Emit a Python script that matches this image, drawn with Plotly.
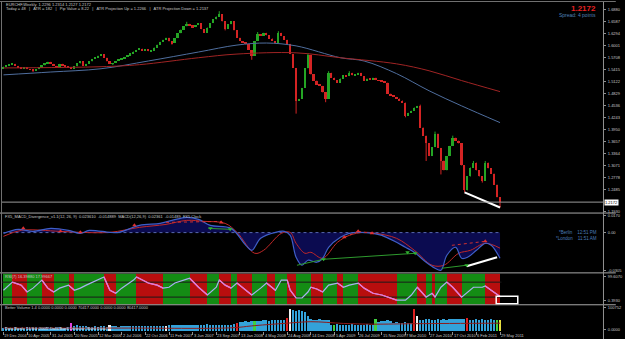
import pandas as pd
import plotly.graph_objects as go

# ---------------- data ----------------
START_DATE = "2004-12-19"   # bi-weekly bars
CLOSE = [
    1.549, 1.552, 1.555, 1.556, 1.551, 1.547, 1.544, 1.548, 1.543, 1.541,
    1.539, 1.543, 1.548, 1.552, 1.557, 1.561, 1.556, 1.551, 1.546, 1.556,
    1.553, 1.549, 1.546, 1.544, 1.550, 1.557, 1.563, 1.551, 1.556, 1.562,
    1.568, 1.572, 1.576, 1.580, 1.571, 1.562, 1.556, 1.558, 1.563, 1.567,
    1.570, 1.573, 1.576, 1.582, 1.586, 1.590, 1.593, 1.589, 1.592, 1.587,
    1.588, 1.596, 1.603, 1.610, 1.615, 1.620, 1.611, 1.607, 1.619, 1.631,
    1.640, 1.648, 1.654, 1.650, 1.646, 1.651, 1.656, 1.641, 1.632, 1.645,
    1.656, 1.665, 1.672, 1.678, 1.660, 1.642, 1.653, 1.661, 1.638, 1.620,
    1.612, 1.608, 1.605, 1.590, 1.576, 1.612, 1.629, 1.625, 1.632, 1.626,
    1.618, 1.612, 1.607, 1.632, 1.624, 1.615, 1.605, 1.580, 1.546, 1.466,
    1.470, 1.497, 1.545, 1.578, 1.530, 1.515, 1.505, 1.502, 1.486, 1.470,
    1.534, 1.522, 1.516, 1.510, 1.520, 1.528, 1.526, 1.534, 1.528, 1.531,
    1.534, 1.526, 1.515, 1.520, 1.518, 1.522, 1.516, 1.514, 1.512, 1.510,
    1.483, 1.478, 1.475, 1.471, 1.466, 1.461, 1.429, 1.436, 1.441, 1.449,
    1.453, 1.400, 1.380, 1.361, 1.330, 1.352, 1.385, 1.350, 1.319, 1.295,
    1.330, 1.355, 1.375, 1.368, 1.361, 1.307, 1.246, 1.280, 1.302, 1.314,
    1.295, 1.280, 1.270, 1.314, 1.300, 1.287, 1.260, 1.229, 1.217,
]
FIRST_OPEN = 1.545
WICK_HIGH = {73: 1.685, 103: 1.582, 62: 1.659, 86: 1.634, 93: 1.636, 110: 1.538,
             117: 1.538, 141: 1.456, 146: 1.390, 152: 1.380, 159: 1.318, 163: 1.318}
WICK_LOW = {84: 1.566, 99: 1.434, 109: 1.462, 143: 1.318, 148: 1.285, 156: 1.241,
            168: 1.204, 10: 1.536, 37: 1.553, 57: 1.603, 75: 1.638, 136: 1.425, 162: 1.265}
BID = 1.2172

PRICE_TICKS = [1.6880, 1.6587, 1.6294, 1.6001, 1.5708, 1.5415, 1.5122, 1.4829,
               1.4536, 1.4243, 1.3950, 1.3657, 1.3364, 1.3071, 1.2778, 1.2485, 1.1930]

MA_BLUE_I = [0, 16, 33, 49, 66, 79, 89, 99, 114, 122, 133, 144, 155, 168]
MA_BLUE_V = [1.529, 1.536, 1.544, 1.563, 1.585, 1.602, 1.607, 1.600, 1.571, 1.563,
             1.532, 1.490, 1.453, 1.412]
MA_RED_I = [0, 33, 46, 66, 79, 99, 114, 133, 144, 155, 168]
MA_RED_V = [1.546, 1.549, 1.554, 1.571, 1.580, 1.583, 1.571, 1.556, 1.539, 1.515, 1.488]

PRICE_DIV = [(156, 1.241), (168, 1.204)]

MACD_I = [0, 5, 10, 16, 22, 26, 29, 36, 39, 46, 53, 57, 62, 66, 70, 77, 82, 84, 87, 92,
          95, 97, 99, 101, 103, 106, 108, 110, 114, 117, 120, 125, 128, 133, 136, 139,
          143, 146, 148, 150, 153, 155, 157, 160, 163, 165, 168]
MACD_V = [-0.0006, 0.0026, 0.0010, 0.0034, 0.0018, -0.0006, 0.0018, 0.0002, 0.0002,
          0.0058, 0.0074, 0.0098, 0.0122, 0.0106, 0.0058, 0.0034, -0.0102, -0.0142,
          -0.0046, 0.0002, 0.0010, -0.0022, -0.0198, -0.0262, -0.0222, -0.0238, -0.0206,
          -0.0118, -0.0038, -0.0006, 0.0002, -0.0006, -0.0022, -0.0078, -0.0118, -0.0158,
          -0.0238, -0.0286, -0.0302, -0.0182, -0.0118, -0.0206, -0.0198, -0.0142,
          -0.0086, -0.0102, -0.0206]
SIGNAL_I = [0, 6, 19, 26, 36, 46, 55, 62, 68, 75, 79, 85, 88, 94, 97, 99, 102, 104, 108,
            113, 117, 122, 126, 133, 139, 145, 149, 154, 158, 163, 168]
SIGNAL_V = [-0.0030, 0.0018, 0.0010, 0.0002, 0.0002, 0.0042, 0.0066, 0.0098, 0.0090,
            0.0074, 0.0002, -0.0166, -0.0142, -0.0006, 0.0002, -0.0086, -0.0166, -0.0158,
            -0.0206, -0.0078, -0.0022, 0.0002, -0.0006, -0.0046, -0.0142, -0.0262,
            -0.0262, -0.0166, -0.0142, -0.0086, -0.0125]
DIV_RED = [((55, 0.0082), (73.7, 0.0090)), ((115.3, -0.0038), (120, 0.0010)),
           ((120, 0.0010), (124.7, -0.0006)), ((151.7, -0.0102), (163, -0.0070))]
DIV_GREEN = [((69.3, 0.0034), (77, 0.0026)), ((99.3, -0.0262), (108.3, -0.0214)),
             ((108.3, -0.0214), (139.3, -0.0166)), ((148.3, -0.0286), (156.7, -0.0262))]
DIV_WHITE = [((156.7, -0.0270), (167, -0.0198))]
PEAK_I = [6.7, 19.3, 26, 44.3, 73.7, 115.3, 120, 124.7, 163]
PEAK_V = [0.0034, 0.0010, 0.0002, 0.0058, 0.0082, -0.0038, 0.0010, -0.0006, -0.0070]
TROUGH_I = [70, 76.7, 108.3, 136.7, 139.3, 156.7]
TROUGH_V = [0.0034, 0.0026, -0.0214, -0.0158, -0.0166, -0.0262]

STOCH_I = [0, 3, 6, 8, 10, 13, 15, 17, 19, 22, 24, 26, 28, 32, 34, 36, 38, 40, 44, 45,
           47, 49, 52, 54, 56, 58, 62, 63, 66, 69, 72, 73, 75, 77, 79, 82, 84, 87, 89,
           92, 94, 96, 97, 99, 101, 103, 104, 106, 108, 110, 113, 115, 117, 120, 122,
           125, 128, 133, 136, 138, 140, 143, 145, 146, 148, 150, 152, 155, 157, 159,
           162, 163, 165, 168]
STOCH_V = [43, 70, 60, 37, 50, 77, 50, 37, 50, 60, 43, 50, 60, 77, 87, 43, 33, 50, 77,
           87, 77, 67, 60, 50, 53, 67, 80, 83, 53, 27, 53, 77, 60, 50, 67, 43, 27, 50,
           67, 43, 77, 77, 43, 17, 17, 37, 53, 47, 37, 60, 67, 53, 60, 67, 50, 33, 27,
           10, 10, 27, 53, 20, 33, 20, 53, 70, 53, 20, 37, 53, 53, 57, 43, 22]
STOCH_LEVELS = [70, 20]

VOLUME_K = [
    15, 17, 14, 16, 18, 15, 16, 14, 17, 16, 15, 18, 16, 14, 15, 17, 16, 15, 18, 17, 16, 15, 17,
    36,
    24, 25, 23, 24, 22,
    20, 19, 21, 20, 22, 21, 20,
    27,
    21, 22, 20, 23, 22, 21, 24, 22, 21, 23, 22, 24, 23, 22, 21, 23, 24, 22, 23,
    25, 26, 27, 25, 26, 28, 27, 26, 25, 27, 28, 26, 27, 29, 28, 27, 26, 28, 27, 26, 28, 27, 29,
    33,
    38, 40, 42, 40, 41, 43, 44, 42, 45, 46, 44, 47, 46, 48, 45, 47,
    56,
    92, 88, 84, 86, 82, 80, 64, 52,
    48, 47, 49, 46, 48, 45,
    28, 27, 29, 28, 26, 27, 28, 29, 27, 26, 28, 27, 29, 28, 27,
    52, 40,
    44, 43, 45, 42,
    36, 37, 35, 36, 38, 36, 35,
    92, 64,
    48, 47, 49, 50, 48, 47, 49, 48, 50, 47,
    50, 52, 49, 51, 50, 52,
    56,
    48, 47, 49, 48, 50, 47, 48, 49, 47, 48, 46,
]
VOL_CLASS = {23: "M", 36: "W", 55: "W", 79: "R", 85: "G", 96: "R", 97: "W", 112: "G",
             126: "G", 139: "R", 140: "W", 157: "R", 167: "G", 168: "Y"}
VOL_MA_I = [0, 40, 77, 85, 96, 104, 115, 125, 140, 168]
VOL_MA_V = [12, 12, 13, 22, 32, 38, 31, 28, 30, 32]

DATE_LABELS = ["19 Dec 2004", "10 Apr 2005", "31 Jul 2005", "20 Nov 2005", "12 Mar 2006",
               "2 Jul 2006", "22 Oct 2006", "11 Feb 2007", "3 Jun 2007", "23 Sep 2007",
               "13 Jan 2008", "4 May 2008", "24 Aug 2008", "14 Dec 2008", "5 Apr 2009",
               "26 Jul 2009", "15 Nov 2009", "7 Mar 2010", "27 Jun 2010", "17 Oct 2010",
               "6 Feb 2011", "29 May 2011"]

# ---------------- helpers ----------------
W, H = 625, 339
ML, MR, MT, MB = 2, 13, 2, 8
PW, PH = W - ML - MR, H - MT - MB
d0 = pd.Timestamp(START_DATE)
STEP = pd.Timedelta(days=14)
DAY_MS = 86400000


def d(i):
    return d0 + STEP * i


def px(x):
    return (x - ML) / PW


def py(y):
    return (H - MB - y) / PH


N = len(CLOSE)
dates = [d(i) for i in range(N)]
OPEN = [FIRST_OPEN] + CLOSE[:-1]
HIGH = [WICK_HIGH.get(i, max(o, c)) for i, (o, c) in enumerate(zip(OPEN, CLOSE))]
LOW = [WICK_LOW.get(i, min(o, c)) for i, (o, c) in enumerate(zip(OPEN, CLOSE))]

UP, DN = "#25A525", "#D42424"
FONT = "Liberation Sans, Arial, sans-serif"
TXT = "#C8C8C8"

fig = go.Figure()

# ---- main price panel: candles as wicks + bodies ----
for is_up, col in [(True, UP), (False, DN)]:
    idx = [i for i in range(N) if (CLOSE[i] >= OPEN[i]) == is_up]
    wx, wy = [], []
    for i in idx:
        wx += [dates[i], dates[i], None]
        wy += [LOW[i], HIGH[i], None]
    fig.add_trace(go.Scatter(x=wx, y=wy, mode="lines", line=dict(color=col, width=1),
                             xaxis="x", yaxis="y", showlegend=False, hoverinfo="skip"))
    fig.add_trace(go.Bar(x=[dates[i] for i in idx],
                         y=[max(abs(CLOSE[i] - OPEN[i]), 0.0012) for i in idx],
                         base=[min(CLOSE[i], OPEN[i]) for i in idx],
                         width=14 * DAY_MS * 0.62, marker=dict(color=col, line=dict(width=0)),
                         xaxis="x", yaxis="y", showlegend=False, hoverinfo="skip"))
fig.add_trace(go.Scatter(x=[d(i) for i in MA_BLUE_I], y=MA_BLUE_V, mode="lines",
                         line=dict(color="#4F6E9E", width=1, shape="spline"),
                         xaxis="x", yaxis="y", showlegend=False, hoverinfo="skip"))
fig.add_trace(go.Scatter(x=[d(i) for i in MA_RED_I], y=MA_RED_V, mode="lines",
                         line=dict(color="#A02424", width=1, shape="spline"),
                         xaxis="x", yaxis="y", showlegend=False, hoverinfo="skip"))
fig.add_trace(go.Scatter(x=[d(p[0]) for p in PRICE_DIV], y=[p[1] for p in PRICE_DIV],
                         mode="lines", line=dict(color="white", width=2),
                         xaxis="x", yaxis="y", showlegend=False, hoverinfo="skip"))
fig.add_trace(go.Scatter(x=[d(-0.5), d(203)], y=[BID, BID], mode="lines",
                         line=dict(color="#9A9A9A", width=1),
                         xaxis="x", yaxis="y", showlegend=False, hoverinfo="skip"))

# ---- MACD panel ----
mx = [d(i) for i in MACD_I]
fig.add_trace(go.Scatter(x=mx, y=MACD_V, mode="lines", fill="tozeroy",
                         fillcolor="#0B0B50", line=dict(width=0, shape="spline"),
                         xaxis="x2", yaxis="y2", showlegend=False, hoverinfo="skip"))
fig.add_trace(go.Scatter(x=[d(0), d(168)], y=[0, 0], mode="lines",
                         line=dict(color="#5868B0", width=1, dash="dot"),
                         xaxis="x2", yaxis="y2", showlegend=False, hoverinfo="skip"))
fig.add_trace(go.Scatter(x=[d(i) for i in SIGNAL_I], y=SIGNAL_V, mode="lines",
                         line=dict(color="#C02828", width=1, shape="spline"),
                         xaxis="x2", yaxis="y2", showlegend=False, hoverinfo="skip"))
fig.add_trace(go.Scatter(x=mx, y=MACD_V, mode="lines",
                         line=dict(color="#3F5FC8", width=1.2, shape="spline"),
                         xaxis="x2", yaxis="y2", showlegend=False, hoverinfo="skip"))
for segs, col, dash, wid in [(DIV_RED, "#D03030", "dot", 1), (DIV_GREEN, "#2E9A2E", "solid", 1),
                             (DIV_WHITE, "white", "solid", 2)]:
    xs, ys = [], []
    for (a, b) in segs:
        xs += [d(a[0]), d(b[0]), None]
        ys += [a[1], b[1], None]
    fig.add_trace(go.Scatter(x=xs, y=ys, mode="lines", line=dict(color=col, width=wid, dash=dash),
                             xaxis="x2", yaxis="y2", showlegend=False, hoverinfo="skip"))
fig.add_trace(go.Scatter(x=[d(i) for i in PEAK_I], y=PEAK_V, mode="markers",
                         marker=dict(symbol="triangle-up", size=4, color="#E03030"),
                         xaxis="x2", yaxis="y2", showlegend=False, hoverinfo="skip"))
fig.add_trace(go.Scatter(x=[d(i) for i in TROUGH_I], y=TROUGH_V, mode="markers",
                         marker=dict(symbol="triangle-down", size=4, color="#30B030"),
                         xaxis="x2", yaxis="y2", showlegend=False, hoverinfo="skip"))

# ---- oscillator panel ----
bx, bw, bc = [], [], []
for k in range(len(STOCH_I) - 1):
    a, b = STOCH_I[k], STOCH_I[k + 1]
    bx.append(d((a + b) / 2))
    bw.append((b - a) * 14 * DAY_MS)
    bc.append("#148C14" if STOCH_V[k + 1] >= STOCH_V[k] else "#B80E0E")
fig.add_trace(go.Bar(x=bx, y=[130] * len(bx), base=-15, width=bw,
                     marker=dict(color=bc, line=dict(width=0)),
                     xaxis="x3", yaxis="y3", showlegend=False, hoverinfo="skip"))
for lv in STOCH_LEVELS:
    fig.add_trace(go.Scatter(x=[d(-0.5), d(168.5)], y=[lv, lv], mode="lines",
                             line=dict(color="#1A1A1A", width=1),
                             xaxis="x3", yaxis="y3", showlegend=False, hoverinfo="skip"))
fig.add_trace(go.Scatter(x=[d(i) for i in STOCH_I], y=STOCH_V, mode="lines",
                         line=dict(color="#A8B0F0", width=1.2),
                         xaxis="x3", yaxis="y3", showlegend=False, hoverinfo="skip"))
fx, fy = [], []
for k in range(len(STOCH_I) - 1):
    if STOCH_V[k + 1] < STOCH_V[k]:
        fx += [d(STOCH_I[k]), d(STOCH_I[k + 1]), None]
        fy += [STOCH_V[k], STOCH_V[k + 1], None]
fig.add_trace(go.Scatter(x=fx, y=fy, mode="lines", line=dict(color="#F070D0", width=1.2),
                         xaxis="x3", yaxis="y3", showlegend=False, hoverinfo="skip"))

# ---- volume panel ----
CLS_COL = {"M": "#E040E0", "W": "#F0F0F0", "R": "#E02020", "G": "#40D040", "Y": "#E8E040"}
vcol = [CLS_COL.get(VOL_CLASS.get(i, ""), "#33A2DA") for i in range(N)]
fig.add_trace(go.Bar(x=dates, y=VOLUME_K, width=14 * DAY_MS * 0.62,
                     marker=dict(color=vcol, line=dict(width=0)),
                     xaxis="x4", yaxis="y4", showlegend=False, hoverinfo="skip"))
fig.add_trace(go.Scatter(x=[d(i) for i in VOL_MA_I], y=VOL_MA_V, mode="lines",
                         line=dict(color="#8E1B1B", width=1, shape="spline"),
                         xaxis="x4", yaxis="y4", showlegend=False, hoverinfo="skip"))

# ---------------- layout ----------------
xr = [d(-0.5), d(-0.5 + PW / 3.0)]
dom_main = [py(212.7), 1]
dom_macd = [py(272.5), py(213.5)]
dom_osc = [py(304.5), py(273.5)]
dom_vol = [0, py(305.5)]

tickfont = dict(size=4, color=TXT, family=FONT)
yax_common = dict(side="right", showgrid=False, zeroline=False, ticks="outside", ticklen=2,
                  tickcolor="#909090", tickfont=tickfont, fixedrange=True, ticklabelstandoff=1)
xax_common = dict(range=xr, showgrid=False, zeroline=False, showticklabels=False,
                  showline=False, fixedrange=True)

fig.update_layout(
    width=W, height=H, autosize=False,
    margin=dict(l=ML, r=MR, t=MT, b=MB),
    paper_bgcolor="black", plot_bgcolor="black",
    bargap=0, barmode="overlay",
    xaxis=dict(**xax_common, anchor="y"),
    xaxis2=dict(**xax_common, anchor="y2", matches="x"),
    xaxis3=dict(**xax_common, anchor="y3", matches="x"),
    xaxis4=dict(**xax_common, anchor="y4", matches="x", ticks="outside", ticklen=3,
                tickcolor="#909090", tickvals=dates[::8]),
    yaxis=dict(**yax_common, domain=dom_main, anchor="x",
               range=[1.688 - (212.7 - 9) * 0.002443, 1.688 + 7 * 0.002443],
               tickvals=PRICE_TICKS, ticktext=[f"{v:.4f}" for v in PRICE_TICKS]),
    yaxis2=dict(**yax_common, domain=dom_macd, anchor="x2",
                range=[(232.3 - 272.5) * 0.0008, (232.3 - 213.5) * 0.0008],
                tickvals=[0.0135, 0, -0.0305], ticktext=["0.0170", "0.00", "-0.0305"]),
    yaxis3=dict(**yax_common, domain=dom_osc, anchor="x3",
                range=[(303 - 304.5) / 30 * 100, (303 - 273.5) / 30 * 100],
                tickvals=[90, 10], ticktext=["99.6070", "0.3930"]),
    yaxis4=dict(**yax_common, domain=dom_vol, anchor="x4",
                range=[0, 104],
                tickvals=[97, 5], ticktext=["100752", "0.0000"]),
)

shapes = []
for ypx in [212.7, 272.7, 304.7]:
    shapes.append(dict(type="line", xref="paper", yref="paper", x0=px(0), x1=px(W),
                       y0=py(ypx), y1=py(ypx), line=dict(color="#A8A8A8", width=1)))
shapes.append(dict(type="line", xref="paper", yref="paper", x0=px(612.5), x1=px(612.5),
                   y0=py(339), y1=py(0), line=dict(color="#909090", width=1)))
shapes.append(dict(type="line", xref="paper", yref="paper", x0=px(1.5), x1=px(1.5),
                   y0=py(331), y1=py(0), line=dict(color="#707070", width=1)))
shapes.append(dict(type="line", xref="paper", yref="paper", x0=px(0), x1=px(W),
                   y0=py(0.5), y1=py(0.5), line=dict(color="#707070", width=1)))
shapes.append(dict(type="rect", xref="x3", yref="y3", x0=d(166.7), x1=d(174),
                   y0=-2, y1=23, line=dict(color="white", width=1.5)))
fig.update_layout(shapes=shapes)

ann = []


def txt(x, y, s, size=4, color=TXT, anchor="left", bold=False, bg=None):
    a = dict(x=px(x), y=py(y), xref="paper", yref="paper", text=(f"<b>{s}</b>" if bold else s),
             showarrow=False, xanchor=anchor, yanchor="middle",
             font=dict(size=size, color=color, family=FONT))
    if bg:
        a.update(bgcolor=bg, borderpad=0)
    ann.append(a)


txt(4, 3.6, "EURCHF,Weekly  1.2296 1.2314 1.2127 1.2172")
txt(4, 7.6, "Today = 48   |   ATR = 182   |   Pip Value = 8.22   |   ATR Projection Up = 1.2266"
            "   |   ATR Projection Down = 1.2137")
txt(607, 7.5, "1.2172", size=8, color="#E82020", anchor="right", bold=True)
txt(607, 14.3, "Spread: 4 points", size=5, color="#4F82B8", anchor="right")
txt(613.5, 201.7, "1.2172", size=4, color="black", bg="white")
txt(3, 216.3, "FX5_MACD_Divergence_v1.1(12, 26, 9)  0.023610  -0.014889  MACD(12,26,9)  "
              "0.02361  -0.01489  FX5 Clock")
txt(608, 232.2, "*Berlin    12:51 PM", size=4.5, color="#4A7CB8", anchor="right")
txt(608, 237.8, "*London    11:51 AM", size=4.5, color="#4A7CB8", anchor="right")
txt(3, 276.5, "RSI(7) 16.39880 17.99667")
txt(3, 307.5, "Better Volume 1.4 0.0000 0.0000 0.0000 70417.0000 0.0000 0.0000 80417.0000")
txt(3, 328.2, "Data Bank: 14 Bar 2005  Data Bank Detector  Bank Data", color="#D8E8F8")
for k, lab in enumerate(DATE_LABELS):
    ann.append(dict(x=dates[8 * k], y=py(335.5), xref="x4", yref="paper", text=lab,
                    showarrow=False, xanchor="left", yanchor="middle", xshift=-1,
                    font=dict(size=4, color=TXT, family=FONT)))
fig.update_layout(annotations=ann)

fig.write_html("out.html")
